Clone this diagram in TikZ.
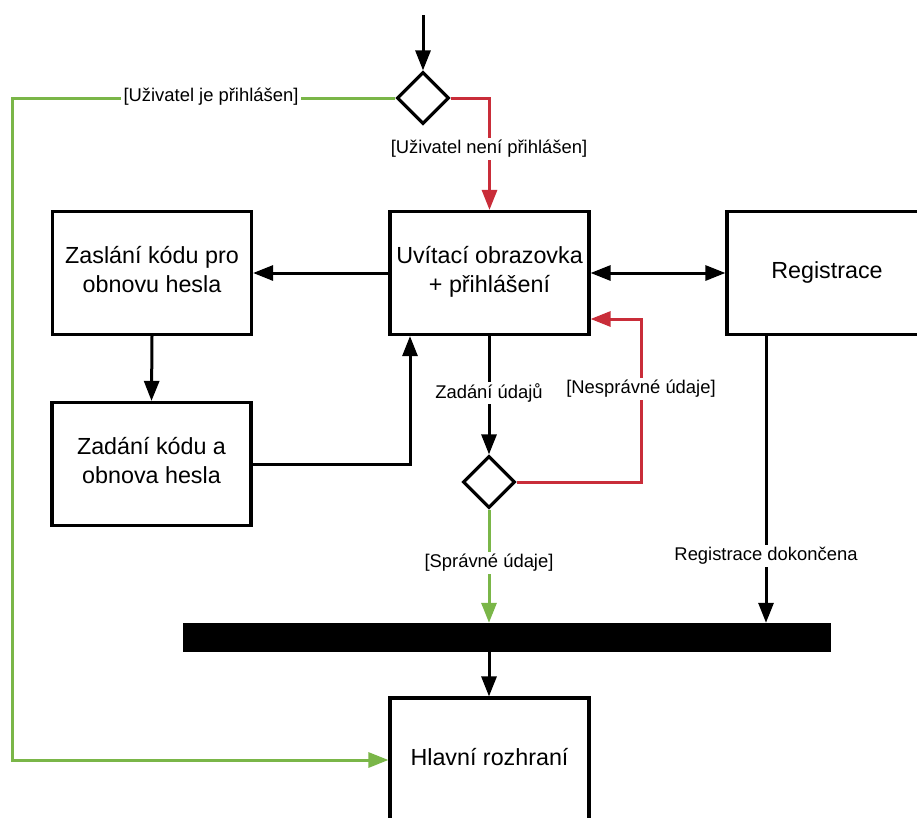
\documentclass[tikz,border=0pt]{standalone}
\usepackage{fontspec}
\setmainfont{Liberation Sans}
\usetikzlibrary{shapes.geometric,arrows.meta}
\definecolor{nored}{HTML}{C92D39}
\definecolor{okgreen}{HTML}{7AB648}
% two centred lines, baseline on the last one
\newcommand{\twolines}[2]{\begin{tabular}[b]{@{}c@{}}#1\\#2\end{tabular}}
\begin{document}
\begin{tikzpicture}[x=1pt,y=-1pt,
  box/.style={draw,line width=3.2pt,rectangle,minimum width=199pt,minimum height=123pt,
    inner sep=0pt,font=\fontsize{23.3}{28.5}\selectfont,text height=10pt,text depth=0pt},
  box2/.style={box,text height=38pt},
  decision/.style={draw,line width=3.2pt,diamond,aspect=1,minimum width=52pt,minimum height=52pt,inner sep=0pt},
  flow/.style={line width=3pt,-{Triangle[length=20pt,width=15pt]}},
  twoway/.style={line width=3pt,{Triangle[length=20pt,width=15pt]}-{Triangle[length=20pt,width=15pt]}},
  guard/.style={fill=white,inner xsep=3pt,inner ysep=2pt,font=\fontsize{18.4}{22}\selectfont}
]
\clip (0,0) rectangle (917,817);
\fill[white] (0,0) rectangle (917,817);

% activities
\node[box2] (uv) at (489.5,273) {\twolines{Uvítací obrazovka}{+ přihlášení}};
\node[box2] (zs) at (152,273) {\twolines{Zaslání kódu pro}{obnovu hesla}};
\node[box2] (zk) at (151.5,464) {\twolines{Zadání kódu a}{obnova hesla}};
\node[box,minimum width=200pt] (rg) at (827,273) {Registrace};
\node[box,minimum height=124pt] (hl) at (489.5,760) {Hlavní rozhraní};

% decisions, synchronisation bar and start point
\node[decision] (d1) at (423,98) {};
\node[decision] (d2) at (489,482) {};
\node[fill=black,minimum width=648pt,minimum height=29pt,inner sep=0pt] (bar) at (507,637.5) {};
\coordinate (start) at (423,15);

% connectors
\draw[flow] (start) -- (d1.north);
\draw[flow,nored] (d1.east) -| (uv.north);
\draw[flow,okgreen] (d1.west) -- (12,98) |- (hl.west);
\draw[flow] (uv.west) -- (zs.east);
\draw[flow] (zs.south) -- (zk.north);
\draw[flow] (zk.east) -| ([xshift=-79.5pt]uv.south);
\draw[twoway] (uv.east) -- (rg.west);
\draw[flow] (uv.south -| d2.north) -- (d2.north);
\draw[flow,nored] (d2.east) -- (641,482) |- ([yshift=-46pt]uv.east);
\draw[flow,okgreen] (d2.south) -- (d2.south |- bar.north);
\draw[flow] ([xshift=-61pt]rg.south) -- ([xshift=-61pt]rg.south |- bar.north);
\draw[flow] (bar.south -| d2.south) -- (hl.north -| d2.south);

% guard labels
\node[guard] (lin) at (211,97) {[Uživatel je přihlášen]};
\node[guard] (lout) at (489,149) {[Uživatel není přihlášen]};
\node[guard] (lent) at (489,393) {Zadání údajů};
\node[guard] (lbad) at (641,389) {[Nesprávné údaje]};
\node[guard] (lok) at (489,563) {[Správné údaje]};
\node[guard] (lreg) at (766,556) {Registrace dokončena};
\end{tikzpicture}
\end{document}
